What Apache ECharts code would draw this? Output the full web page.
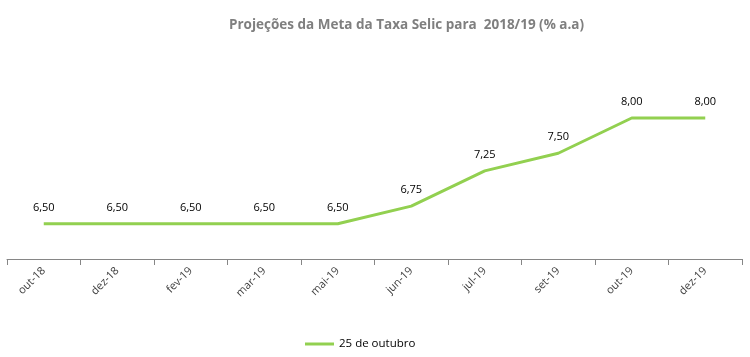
<!DOCTYPE html>
<html><head><meta charset="utf-8">
<script src="https://cdn.jsdelivr.net/npm/echarts@6/dist/echarts.min.js"></script>
<style>html,body{margin:0;padding:0;background:#fff}#c{width:750px;height:357px}</style>
</head><body><div id="c"></div>
<script>
const categories = ['out-18','dez-18','fev-19','mar-19','mai-19','jun-19','jul-19','set-19','out-19','dez-19'];
const seriesName = '25 de outubro';
const values = [6.50,6.50,6.50,6.50,6.50,6.75,7.25,7.50,8.00,8.00];
const titleText = 'Projeções da Meta da Taxa Selic para  2018/19 (% a.a)';

const chart = echarts.init(document.getElementById('c'));
chart.setOption({
  animation:false,
  title:{text:titleText,left:224,top:13,textStyle:{fontFamily:'Open Sans',fontSize:13.5,fontWeight:'bold',color:'#7f7f7f'}},
  grid:{left:7,right:8,top:47.5,bottom:98},
  legend:{top:333,left:300,itemWidth:29,itemHeight:3,icon:'rect',itemGap:5,
    itemStyle:{color:'#92d050',opacity:1},
    textStyle:{fontFamily:'Open Sans',fontSize:11.5,color:'#000'},
    data:[{name:seriesName,itemStyle:{color:'#92d050',opacity:1}}]},
  xAxis:{type:'category',data:categories,boundaryGap:true,
    axisLine:{lineStyle:{color:'#868686',width:1}},
    axisTick:{show:true,length:6,lineStyle:{color:'#868686'}},
    axisLabel:{rotate:45,fontFamily:'Open Sans',fontSize:11,color:'#404040',margin:10}},
  yAxis:{type:'value',min:6,max:9,interval:1,show:false,splitLine:{show:false}},
  series:[{name:seriesName,type:'line',data:values,symbol:'circle',symbolSize:1,showSymbol:true,
    lineStyle:{color:'#92d050',width:3},itemStyle:{color:'#92d050',opacity:0},
    label:{show:true,position:'top',distance:10,fontFamily:'Open Sans',fontSize:11,color:'#000',opacity:1,
      formatter:p=>p.value.toFixed(2).replace('.',',')}}]
});
</script></body></html>
